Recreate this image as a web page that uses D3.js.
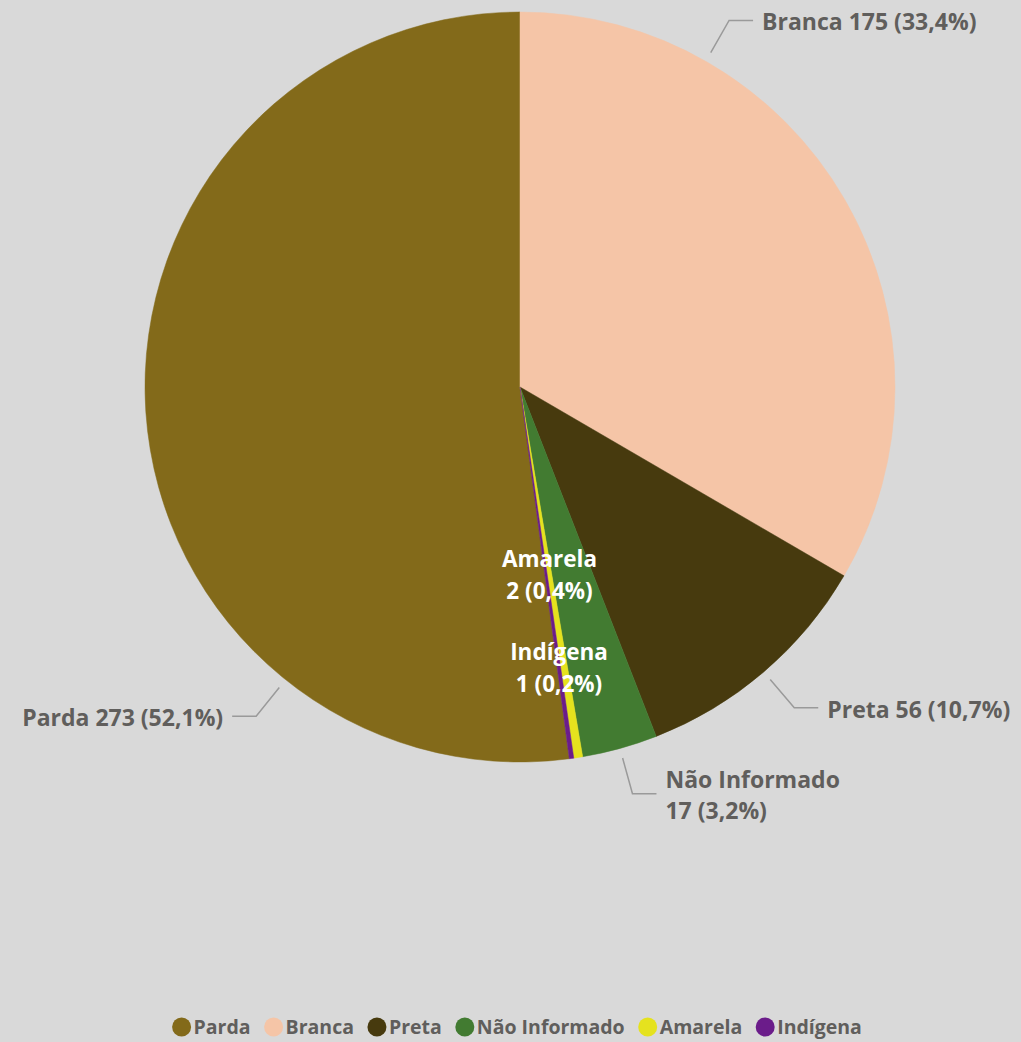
<!DOCTYPE html>
<html><head><meta charset="utf-8">
<script src="https://cdn.jsdelivr.net/npm/d3@7"></script>
<style>body{margin:0;background:#d9d9d9;overflow:hidden}</style></head>
<body>
<svg id="c" width="1021" height="1042"></svg>
<script>
const categories = ["Parda", "Branca", "Preta", "Não Informado", "Amarela", "Indígena"];
const values = [273, 175, 56, 17, 2, 1];
const colors = ["#836A1A", "#F5C5A7", "#473A0E", "#427B31", "#E5E21E", "#6B1C8A"];

const W = 1021, H = 1042;
const cx = 520, cy = 387, R = 375;
const FONT = "'Open Sans', 'DejaVu Sans', sans-serif";
const textGrey = "#605E5C";
const total = d3.sum(values);
const fmtPct = v => (v / total * 100).toFixed(1).replace(".", ",") + "%";

const svg = d3.select("#c");
svg.append("rect").attr("width", W).attr("height", H).attr("fill", "#d9d9d9");

const data = categories.map((c, i) => ({ cat: c, value: values[i], color: colors[i] }));
const start = -values[0] / total * 2 * Math.PI;
const pie = d3.pie().value(d => d.value).sort(null).startAngle(start).endAngle(start + 2 * Math.PI);
const arcs = pie(data);
const arc = d3.arc().innerRadius(0).outerRadius(R);

const g = svg.append("g").attr("transform", `translate(${cx},${cy})`);
g.selectAll("path").data(arcs).join("path")
  .attr("d", arc).attr("fill", d => d.data.color)
  .attr("stroke", d => d.data.color).attr("stroke-width", 0.5);

// label layout: outside (with leader) or inside
const layout = {
  "Parda":         { type: "out", angleDeg: 218.7, side: -1, lines: 1 },
  "Branca":        { type: "out", angleDeg: 29.7, side: 1, lines: 1 },
  "Preta":         { type: "out", side: 1, lines: 1 },
  "Não Informado": { type: "out", side: 1, lines: 2 },
  "Amarela":       { type: "in", radius: 190 },
  "Indígena":      { type: "in", radius: 284 }
};
const polar = (a, r) => [Math.sin(a) * r, -Math.cos(a) * r];
const fsOut = 23, fsIn = 22.5, lineH = 31;

arcs.forEach(d => {
  const L = layout[d.data.cat];
  const mid = (d.startAngle + d.endAngle) / 2;
  const txt1 = d.data.cat, txt2 = `${d.data.value} (${fmtPct(d.data.value)})`;
  if (L.type === "in") {
    const [x, y] = polar(mid, L.radius);
    const t = g.append("text").attr("text-anchor", "middle")
      .attr("font-family", FONT).attr("font-weight", 700).attr("font-size", fsIn).attr("fill", "#fff");
    t.append("tspan").attr("x", x).attr("y", y - 16).attr("dy", "0.36em").text(txt1);
    t.append("tspan").attr("x", x).attr("y", y + 16).attr("dy", "0.36em").text(txt2);
    return;
  }
  let a = L.angleDeg !== undefined ? L.angleDeg * Math.PI / 180 : mid;
  const p0 = polar(a, R + 10), p1 = polar(a, R + 47);
  const p2 = [p1[0] + L.side * 24, p1[1]];
  g.append("polyline").attr("points", [p0, p1, p2].map(p => p.join(",")).join(" "))
    .attr("fill", "none").attr("stroke", "#9a9a9a").attr("stroke-width", 1.5);
  const tx = p2[0] + L.side * 9;
  const t = g.append("text").attr("text-anchor", L.side < 0 ? "end" : "start")
    .attr("font-family", FONT).attr("font-weight", 700).attr("font-size", fsOut).attr("fill", textGrey);
  if (L.lines === 1) {
    t.append("tspan").attr("x", tx).attr("y", p2[1] + 1.5).attr("dy", "0.36em").text(txt1 + " " + txt2);
  } else {
    t.append("tspan").attr("x", tx).attr("y", p2[1] - lineH / 2 + 1).attr("dy", "0.36em").text(txt1);
    t.append("tspan").attr("x", tx).attr("y", p2[1] + lineH / 2 + 1).attr("dy", "0.36em").text(txt2);
  }
});

// legend
const lg = svg.append("g");
const gap = 13.5;
let x = 0;
data.forEach(d => {
  const it = lg.append("g").attr("transform", `translate(${x},0)`);
  it.append("circle").attr("cx", 9.5).attr("cy", 0).attr("r", 9.5).attr("fill", d.color);
  const t = it.append("text").attr("x", 21.5).attr("y", 0).attr("dy", "0.36em")
    .attr("font-family", FONT).attr("font-weight", 700).attr("font-size", 19.5).attr("fill", textGrey)
    .text(d.cat);
  x += 21.5 + t.node().getComputedTextLength() + gap;
});
const lw = x - gap;
lg.attr("transform", `translate(${517 - lw / 2},1027)`);
</script>
</body></html>
